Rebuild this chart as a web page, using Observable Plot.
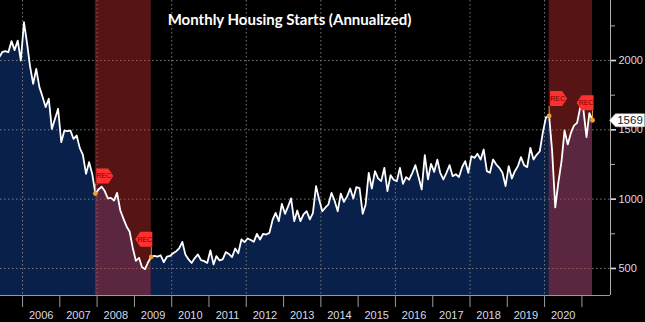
<!DOCTYPE html>
<html><head><meta charset="utf-8">
<script src="https://cdn.jsdelivr.net/npm/d3@7"></script>
<script src="https://cdn.jsdelivr.net/npm/@observablehq/plot@0.6"></script>
<style>
html,body{margin:0;padding:0;background:#000;}
#chart{width:645px;height:322px;overflow:hidden;}
</style></head><body><div id="chart"></div>
<script>
// Monthly housing starts, SAAR thousands
const starts2005 = [2020, 2060, 2068, 2060, 2140, 2075, 2144, 2000]; // May–Dec
const starts2006 = [2276, 2120, 1960, 1832, 1940, 1808, 1740, 1664, 1724, 1507, 1580, 1652];
const starts2007 = [1411, 1495, 1490, 1495, 1435, 1459, 1370, 1320, 1183, 1267, 1180, 1040];
const starts2008 = [1070, 1090, 1060, 1005, 1009, 990, 1045, 920, 860, 805, 765, 650];
const starts2009 = [555, 577, 510, 495, 545, 584, 590, 585, 595, 545, 585, 590];
const starts2010 = [610, 625, 645, 692, 600, 565, 540, 575, 601, 560, 553, 540];
const starts2011 = [630, 529, 589, 558, 565, 618, 605, 582, 644, 610, 709, 690];
const starts2012 = [716, 705, 692, 750, 709, 750, 745, 757, 850, 901, 841, 966];
const starts2013 = [894, 950, 1005, 841, 918, 841, 890, 913, 854, 900, 1094, 998];
const starts2014 = [913, 940, 960, 1045, 990, 913, 1040, 980, 1020, 1077, 1005, 1087];
const starts2015 = [1080, 894, 960, 1190, 1077, 1202, 1150, 1130, 1226, 1058, 1173, 1140];
const starts2016 = [1130, 1226, 1110, 1159, 1140, 1190, 1245, 1160, 1070, 1317, 1142, 1255];
const starts2017 = [1197, 1285, 1190, 1142, 1190, 1245, 1166, 1180, 1160, 1230, 1274, 1190];
const starts2018 = [1310, 1298, 1327, 1286, 1358, 1202, 1190, 1286, 1250, 1226, 1190, 1094];
const starts2019 = [1238, 1149, 1200, 1238, 1303, 1245, 1231, 1370, 1286, 1320, 1344, 1480];
const starts2020 = [1590, 1600, 1350, 940, 1120, 1270, 1496, 1395, 1478, 1530, 1550, 1660];
const starts2021 = [1650, 1447, 1620, 1569]; // Jan–Apr

const seriesByYear = [
  [2005, 5, starts2005], [2006, 1, starts2006], [2007, 1, starts2007], [2008, 1, starts2008],
  [2009, 1, starts2009], [2010, 1, starts2010], [2011, 1, starts2011], [2012, 1, starts2012],
  [2013, 1, starts2013], [2014, 1, starts2014], [2015, 1, starts2015], [2016, 1, starts2016],
  [2017, 1, starts2017], [2018, 1, starts2018], [2019, 1, starts2019], [2020, 1, starts2020],
  [2021, 1, starts2021]
];

const yearLabels = [2006, 2007, 2008, 2009, 2010, 2011, 2012, 2013, 2014, 2015, 2016, 2017, 2018, 2019, 2020];
const yearTicks = [2006, 2007, 2008, 2009, 2010, 2011, 2012, 2013, 2014, 2015, 2016, 2017, 2018, 2019, 2020, 2021];
const gridYears = [2006, 2008, 2010, 2012, 2014, 2016, 2018, 2020];
const yTicks = [500, 1000, 1500, 2000];
const yMinorTicks = [750, 1250, 1750, 2250];
const recessions = [
  {startYear: 2007, startMonth: 12, endYear: 2009, endMonth: 6},
  {startYear: 2020, startMonth: 2, endYear: 2021, endMonth: 4}
];
const title = "Monthly Housing Starts (Annualized)";

const monthDate = (y, m) => new Date(Date.UTC(y, m - 1, 15));
const yearDate = (y, m = 1, d = 1) => new Date(Date.UTC(y, m - 1, d));

const data = [];
for (const [y, m0, arr] of seriesByYear) {
  arr.forEach((v, i) => data.push({date: monthDate(y, m0 + i), value: v}));
}
const valueAt = (y, m) => data.find(d => +d.date === +monthDate(y, m)).value;

const recStarts = recessions.map(r => ({date: monthDate(r.startYear, r.startMonth), value: valueAt(r.startYear, r.startMonth)}));
const recEnds = recessions.map(r => ({date: monthDate(r.endYear, r.endMonth), value: valueAt(r.endYear, r.endMonth)}));
const recPoints = recStarts.concat(recEnds);
const last = data[data.length - 1];

const flagRight = {draw(c) { c.moveTo(1, -25); c.lineTo(13, -25); c.lineTo(18, -17.5); c.lineTo(13, -10); c.lineTo(1, -10); c.closePath(); }};
const flagLeft = {draw(c) { c.moveTo(1, -25); c.lineTo(-11, -25); c.lineTo(-16, -17.5); c.lineTo(-11, -10); c.lineTo(1, -10); c.closePath(); }};
const stem = {draw(c) { c.moveTo(0, 0); c.lineTo(0, -10); }};
const valueBox = {draw(c) { c.moveTo(-1, 0); c.lineTo(5, -6.5); c.lineTo(34, -6.5); c.lineTo(34, 6.5); c.lineTo(5, 6.5); c.closePath(); }};

const axisColor = "#d6dbe6";
const font = "'Liberation Sans', Arial, sans-serif";

const chart = Plot.plot({
  width: 645,
  height: 322,
  marginLeft: 0,
  marginRight: 35,
  marginTop: 0,
  marginBottom: 27,
  style: {background: "#000", color: axisColor, fontFamily: font, fontSize: "11px", overflow: "visible"},
  x: {type: "utc", domain: [yearDate(2005, 5, 30), yearDate(2021, 10, 8)], axis: null},
  y: {domain: [305, 2433], axis: null},
  marks: [
    Plot.areaY(data, {x: "date", y: "value", fill: "#08204a", clip: true}),
    Plot.ruleY(yTicks, {stroke: "#7a7a7a", strokeDasharray: "1.5,2.5"}),
    Plot.ruleX(gridYears.map(y => yearDate(y)), {stroke: "#7a7a7a", strokeDasharray: "1.5,2.5"}),
    Plot.rect(recessions, {
      x1: r => monthDate(r.startYear, r.startMonth),
      x2: r => monthDate(r.endYear, r.endMonth),
      fill: "#d03030", fillOpacity: 0.42
    }),
    Plot.lineY(data, {x: "date", y: "value", stroke: "#ffffff", strokeWidth: 1.8, clip: true}),
    // axis lines
    Plot.ruleY([305], {stroke: "#9a9a9a"}),
    Plot.ruleX([yearDate(2021, 10, 8)], {stroke: "#b0b0b0"}),
    // x axis
    Plot.axisX({ticks: yearTicks.map(y => yearDate(y)), tickSize: 12, tickFormat: () => "", stroke: "#9a9a9a", label: null}),
    Plot.axisX({ticks: yearLabels.map(y => yearDate(y, 7, 2)), tickSize: 0, tickPadding: 16, label: null,
      tickFormat: d => String(d.getUTCFullYear()), fill: axisColor, fontSize: 11, fontFamily: font}),
    // y axis (right)
    Plot.axisY({anchor: "right", ticks: yTicks, tickSize: 5, tickPadding: 3, stroke: "#e0e0e0", strokeWidth: 1.6, label: null,
      fill: axisColor, fontSize: 11, fontFamily: font, tickFormat: d => String(d)}),
    Plot.axisY({anchor: "right", ticks: yMinorTicks, tickSize: 4, tickFormat: () => "", stroke: "#b0b0b0", label: null}),
    // recession markers
    Plot.dot(recPoints, {x: "date", y: "value", symbol: stem, r: 4, stroke: "#e89a2a", strokeWidth: 1, fill: "none"}),
    Plot.dot(recStarts, {x: "date", y: "value", symbol: flagRight, r: 4, fill: "#ff3030", stroke: "none"}),
    Plot.dot(recEnds, {x: "date", y: "value", symbol: flagLeft, r: 4, fill: "#ff3030", stroke: "none"}),
    Plot.text(recStarts, {x: "date", y: "value", text: () => "REC", dx: 8.5, dy: -17.5, fill: "#7a0000", fontSize: 7, fontFamily: font}),
    Plot.text(recEnds, {x: "date", y: "value", text: () => "REC", dx: -6.5, dy: -17.5, fill: "#7a0000", fontSize: 7, fontFamily: font}),
    Plot.dot(recPoints, {x: "date", y: "value", r: 2.4, fill: "#f0a030", stroke: "none"}),
    // last value label
    Plot.dot([last], {y: "value", frameAnchor: "right", symbol: valueBox, r: 4, fill: "#ffffff", stroke: "#cccccc", strokeWidth: 0.5}),
    Plot.text([last], {y: "value", frameAnchor: "right", dx: 19.5, text: d => String(d.value), textAnchor: "middle",
      fill: "#1a1a2a", fontSize: 11.5, fontFamily: font}),
    // title
    Plot.text([title], {frameAnchor: "top", dx: -16, dy: 20, lineAnchor: "middle", text: d => d,
      fill: "#ffffff", fontWeight: "bold", fontSize: 15, fontFamily: "Lato, 'Open Sans', sans-serif"})
  ]
});
document.getElementById("chart").appendChild(chart);
</script>
</body></html>
